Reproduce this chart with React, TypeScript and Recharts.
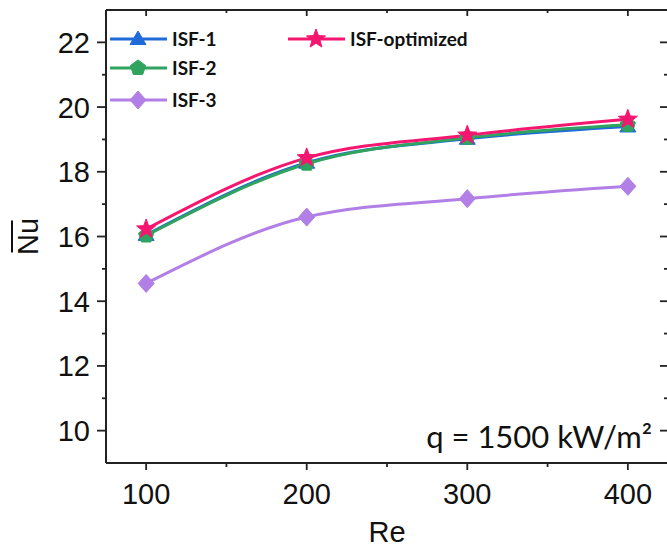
import React from "react";
import { LineChart, Line, XAxis, YAxis, Label } from "recharts";

const reValues = [100, 200, 300, 400];
const isf1 = [16.05, 18.28, 19.02, 19.4];
const isf2 = [16.03, 18.25, 19.05, 19.45];
const isf3 = [14.55, 16.6, 17.17, 17.55];
const isfOpt = [16.23, 18.43, 19.13, 19.62];

const xTicks = [100, 150, 200, 250, 300, 350, 400];
const yTicks = [10, 11, 12, 13, 14, 15, 16, 17, 18, 19, 20, 21, 22];

const data = reValues.map((re, i) => ({
  re,
  isf1: isf1[i],
  isf2: isf2[i],
  isf3: isf3[i],
  isfOpt: isfOpt[i],
}));

const C1 = "#1f6bd8";
const C2 = "#2fa35f";
const C3 = "#b17fe6";
const C4 = "#f5166f";
const AX = "#222";
const TICK_FONT = "'Liberation Sans', Arial, sans-serif";

const Triangle = ({ cx, cy, color }: any) => (
  <polygon points={`${cx},${cy - 8} ${cx + 8},${cy + 5.5} ${cx - 8},${cy + 5.5}`} fill={color} stroke={color} strokeWidth={1} />
);
const Pentagon = ({ cx, cy, color }: any) => {
  const r = 8;
  const pts = [0, 1, 2, 3, 4]
    .map((k) => {
      const a = -Math.PI / 2 + (k * 2 * Math.PI) / 5;
      return `${cx + r * Math.cos(a)},${cy + r * Math.sin(a)}`;
    })
    .join(" ");
  return <polygon points={pts} fill={color} stroke={color} strokeWidth={1} />;
};
const Diamond = ({ cx, cy, color }: any) => (
  <polygon points={`${cx},${cy - 9} ${cx + 8},${cy} ${cx},${cy + 9} ${cx - 8},${cy}`} fill={color} stroke={color} strokeWidth={1} />
);
const Star = ({ cx, cy, color }: any) => {
  const ro = 10;
  const ri = 4.2;
  const pts = Array.from({ length: 10 })
    .map((_, k) => {
      const a = -Math.PI / 2 + (k * Math.PI) / 5;
      const r = k % 2 === 0 ? ro : ri;
      return `${cx + r * Math.cos(a)},${cy + r * Math.sin(a)}`;
    })
    .join(" ");
  return <polygon points={pts} fill={color} stroke={color} strokeWidth={1} />;
};

const LeftTick = (props: any) => {
  const { x, y, payload } = props;
  const major = payload.value % 2 === 0;
  return (
    <g>
      <line x1={x - (major ? 9 : 4)} x2={x} y1={y} y2={y} stroke={AX} strokeWidth={1.8} />
      {major && (
        <text x={x - 16} y={y} dy={10.5} textAnchor="end" fontSize={29} fontFamily={TICK_FONT} fill="#111">
          {payload.value}
        </text>
      )}
    </g>
  );
};
const RightTick = (props: any) => {
  const { x, y, payload } = props;
  const major = payload.value % 2 === 0;
  return <line x1={x - (major ? 8 : 4)} x2={x} y1={y} y2={y} stroke={AX} strokeWidth={1.8} />;
};
const BottomTick = (props: any) => {
  const { x, y, payload } = props;
  const major = payload.value % 100 === 0;
  return (
    <g>
      <line x1={x} x2={x} y1={y} y2={y + (major ? 7 : 4)} stroke={AX} strokeWidth={1.8} />
      {major && (
        <text x={x} y={y + 41} textAnchor="middle" fontSize={29} fontFamily={TICK_FONT} fill="#111">
          {payload.value}
        </text>
      )}
    </g>
  );
};
const TopTick = (props: any) => {
  const { x, y, payload } = props;
  const major = payload.value % 100 === 0;
  return <line x1={x} x2={x} y1={y} y2={y + (major ? 6 : 3)} stroke={AX} strokeWidth={1.8} />;
};

const NuLabel = (props: any) => {
  const vb = props.viewBox || {};
  const cy = vb.y + vb.height / 2;
  return (
    <g transform={`translate(27, ${cy}) rotate(-90)`}>
      <text x={0} y={11} textAnchor="middle" fontSize={29} fontFamily={TICK_FONT} fill="#111">
        Nu
      </text>
      <line x1={-16} x2={16} y1={-15} y2={-15} stroke="#111" strokeWidth={2} />
    </g>
  );
};

const ReLabel = (props: any) => {
  const vb = props.viewBox || {};
  return (
    <g>
      <text x={vb.x + vb.width / 2} y={vb.y + 79} textAnchor="middle" fontSize={29} fontFamily={TICK_FONT} fill="#111">
        Re
      </text>
      <text x={vb.x + vb.width - 16} y={vb.y - 15} textAnchor="end" fontSize={31} fontFamily="Lato, sans-serif" fill="#111">
        q = 1500 kW/m²
      </text>
    </g>
  );
};

const legendItems = [
  { name: "ISF-1", color: C1, Marker: Triangle, x: 110, y: 39 },
  { name: "ISF-2", color: C2, Marker: Pentagon, x: 110, y: 68 },
  { name: "ISF-3", color: C3, Marker: Diamond, x: 110, y: 100 },
  { name: "ISF-optimized", color: C4, Marker: Star, x: 288, y: 39 },
];

export default function App() {
  return (
    <div style={{ position: "absolute", left: 0, top: 0, width: 667, height: 547, overflow: "hidden", background: "#fff" }}>
      <LineChart width={670} height={547} data={data} margin={{ top: 9, right: 1, bottom: 0, left: 0 }}>
        <XAxis
          xAxisId="b"
          dataKey="re"
          type="number"
          domain={[75, 425]}
          ticks={xTicks}
          orientation="bottom"
          height={84}
          tickSize={0}
          tickMargin={0}
          tickLine={false}
          axisLine={{ stroke: AX, strokeWidth: 2 }}
          tick={<BottomTick />}
          interval={0}
        >
          <Label content={<ReLabel />} />
        </XAxis>
        <XAxis
          xAxisId="t"
          dataKey="re"
          type="number"
          domain={[75, 425]}
          ticks={xTicks}
          orientation="top"
          height={1}
          tickSize={0}
          tickMargin={0}
          tickLine={false}
          axisLine={{ stroke: AX, strokeWidth: 2 }}
          tick={<TopTick />}
          interval={0}
        />
        <YAxis
          yAxisId="l"
          type="number"
          domain={[9, 23]}
          ticks={yTicks}
          orientation="left"
          width={106}
          tickSize={0}
          tickMargin={0}
          tickLine={false}
          axisLine={{ stroke: AX, strokeWidth: 2 }}
          tick={<LeftTick />}
          interval={0}
        >
          <Label content={<NuLabel />} />
        </YAxis>
        <YAxis
          yAxisId="r"
          type="number"
          domain={[9, 23]}
          ticks={yTicks}
          orientation="right"
          width={1}
          tickSize={0}
          tickMargin={0}
          tickLine={false}
          axisLine={{ stroke: AX, strokeWidth: 2 }}
          tick={<RightTick />}
          interval={0}
        />
        <Line
          xAxisId="t"
          yAxisId="r"
          type="monotone"
          dataKey="isfOpt"
          stroke="none"
          strokeOpacity={0}
          dot={false}
          activeDot={false}
          isAnimationActive={false}
        />
        <Line
          xAxisId="b"
          yAxisId="l"
          type="monotone"
          dataKey="isf3"
          stroke={C3}
          strokeWidth={3}
          isAnimationActive={false}
          dot={(p: any) => <Diamond key={`d3-${p.index}`} cx={p.cx} cy={p.cy} color={C3} />}
        />
        <Line
          xAxisId="b"
          yAxisId="l"
          type="monotone"
          dataKey="isf1"
          stroke={C1}
          strokeWidth={3}
          isAnimationActive={false}
          dot={(p: any) => <Triangle key={`d1-${p.index}`} cx={p.cx} cy={p.cy} color={C1} />}
        />
        <Line
          xAxisId="b"
          yAxisId="l"
          type="monotone"
          dataKey="isf2"
          stroke={C2}
          strokeWidth={3}
          isAnimationActive={false}
          dot={(p: any) => <Pentagon key={`d2-${p.index}`} cx={p.cx} cy={p.cy} color={C2} />}
        />
        <Line
          xAxisId="b"
          yAxisId="l"
          type="monotone"
          dataKey="isfOpt"
          stroke={C4}
          strokeWidth={3}
          isAnimationActive={false}
          dot={(p: any) => <Star key={`d4-${p.index}`} cx={p.cx} cy={p.cy} color={C4} />}
        />
      </LineChart>
      <svg width={667} height={547} style={{ position: "absolute", left: 0, top: 0, pointerEvents: "none" }}>
        {legendItems.map((it) => (
          <g key={it.name}>
            <line x1={it.x} x2={it.x + 57} y1={it.y} y2={it.y} stroke={it.color} strokeWidth={3} />
            <it.Marker cx={it.x + 28} cy={it.y} color={it.color} />
            <text x={it.x + 62} y={it.y + 7} fontSize={19} fontWeight="bold" fontFamily="Lato, sans-serif" fill="#111">
              {it.name}
            </text>
          </g>
        ))}
      </svg>
    </div>
  );
}
